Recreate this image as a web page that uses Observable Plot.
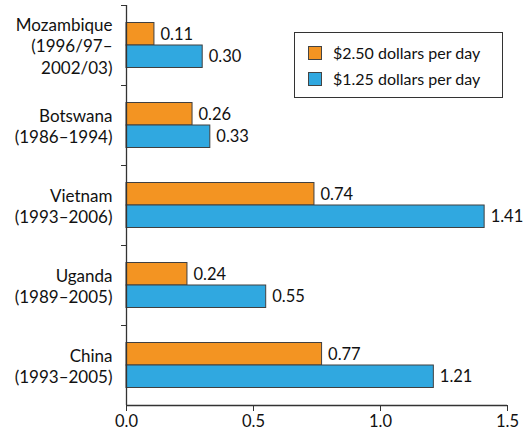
<!DOCTYPE html>
<html>
<head>
<meta charset="utf-8">
<script src="https://cdn.jsdelivr.net/npm/d3@7"></script>
<script src="https://cdn.jsdelivr.net/npm/@observablehq/plot@0.6"></script>
<style>
  html, body { margin: 0; padding: 0; background: #fff; }
  #wrap { position: relative; width: 524px; height: 435px; font-family: Lato, "Open Sans", sans-serif; }
  #legend { position: absolute; left: 294px; top: 32px; width: 209px; height: 66px; border: 1px solid #333; box-sizing: border-box; background: #fff; font-size: 16px; color: #111; }
  .item { position: absolute; left: 13px; display: flex; align-items: center; white-space: nowrap; }
  .sw { width: 12px; height: 12px; border: 1px solid #444; margin-right: 11px; flex: none; }
</style>
</head>
<body>
<div id="wrap"><div id="chart"></div><div id="legend"></div></div>
<script>
const countries = ["Mozambique", "Botswana", "Vietnam", "Uganda", "China"];
const countryLabels = ["Mozambique\n(1996/97–\n2002/03)", "Botswana\n(1986–1994)", "Vietnam\n(1993–2006)", "Uganda\n(1989–2005)", "China\n(1993–2005)"];
const seriesNames = ["$2.50 dollars per day", "$1.25 dollars per day"];
const values250 = [0.11, 0.26, 0.74, 0.24, 0.77];
const values125 = [0.30, 0.33, 1.41, 0.55, 1.21];
const xTicks = [0, 0.5, 1.0, 1.5];
const colors = ["#F39422", "#30A8E0"];

const d250 = countries.map((c, i) => ({country: c, value: values250[i]}));
const d125 = countries.map((c, i) => ({country: c, value: values125[i]}));
const labelOf = new Map(countries.map((c, i) => [c, countryLabels[i]]));

const chart = Plot.plot({
  width: 524,
  height: 435,
  marginLeft: 126,
  marginRight: 17,
  marginTop: 5,
  marginBottom: 30,
  style: {fontFamily: "Lato, 'Open Sans', sans-serif", fontSize: "16px", color: "#111", background: "#fff"},
  x: {domain: [0, 1.5], ticks: xTicks, tickFormat: d3.format(".1f"), label: null},
  y: {domain: countries, padding: 0, label: null},
  marks: [
    Plot.barX(d250, {x: "value", y: "country", fill: colors[0], stroke: "#404040", strokeWidth: 1, insetTop: 17.5, insetBottom: 40}),
    Plot.barX(d125, {x: "value", y: "country", fill: colors[1], stroke: "#404040", strokeWidth: 1, insetTop: 40, insetBottom: 17.5}),
    Plot.text(d250, {x: "value", y: "country", text: d => d.value.toFixed(2), textAnchor: "start", dx: 6, dy: -11.25, fontSize: 16.5, fill: "#111"}),
    Plot.text(d125, {x: "value", y: "country", text: d => d.value.toFixed(2), textAnchor: "start", dx: 6, dy: 11.25, fontSize: 16.5, fill: "#111"}),
    Plot.axisY({tickSize: 0, tickPadding: 14, tickFormat: d => labelOf.get(d), lineHeight: 1.25, fontSize: 17}),
    Plot.axisY({tickSize: 5, dy: -40, tickFormat: null, text: null, stroke: "#333"}),
    Plot.ruleX([0], {stroke: "#333", strokeWidth: 1.3}),
    Plot.axisX({ticks: xTicks, tickFormat: d3.format(".1f"), tickSize: 6, tickPadding: 4, fontSize: 16.5, stroke: "#333"}),
    Plot.ruleY([countries[countries.length - 1]], {dy: 40, stroke: "#333", strokeWidth: 1.3})
  ]
});
document.getElementById("chart").appendChild(chart);

const legend = document.getElementById("legend");
seriesNames.forEach((name, i) => {
  const item = document.createElement("div");
  item.className = "item";
  item.style.top = (i === 0 ? 10 : 36) + "px";
  const sw = document.createElement("div");
  sw.className = "sw";
  sw.style.background = colors[i];
  const t = document.createElement("span");
  t.textContent = name;
  item.appendChild(sw);
  item.appendChild(t);
  legend.appendChild(item);
});
</script>
</body>
</html>
